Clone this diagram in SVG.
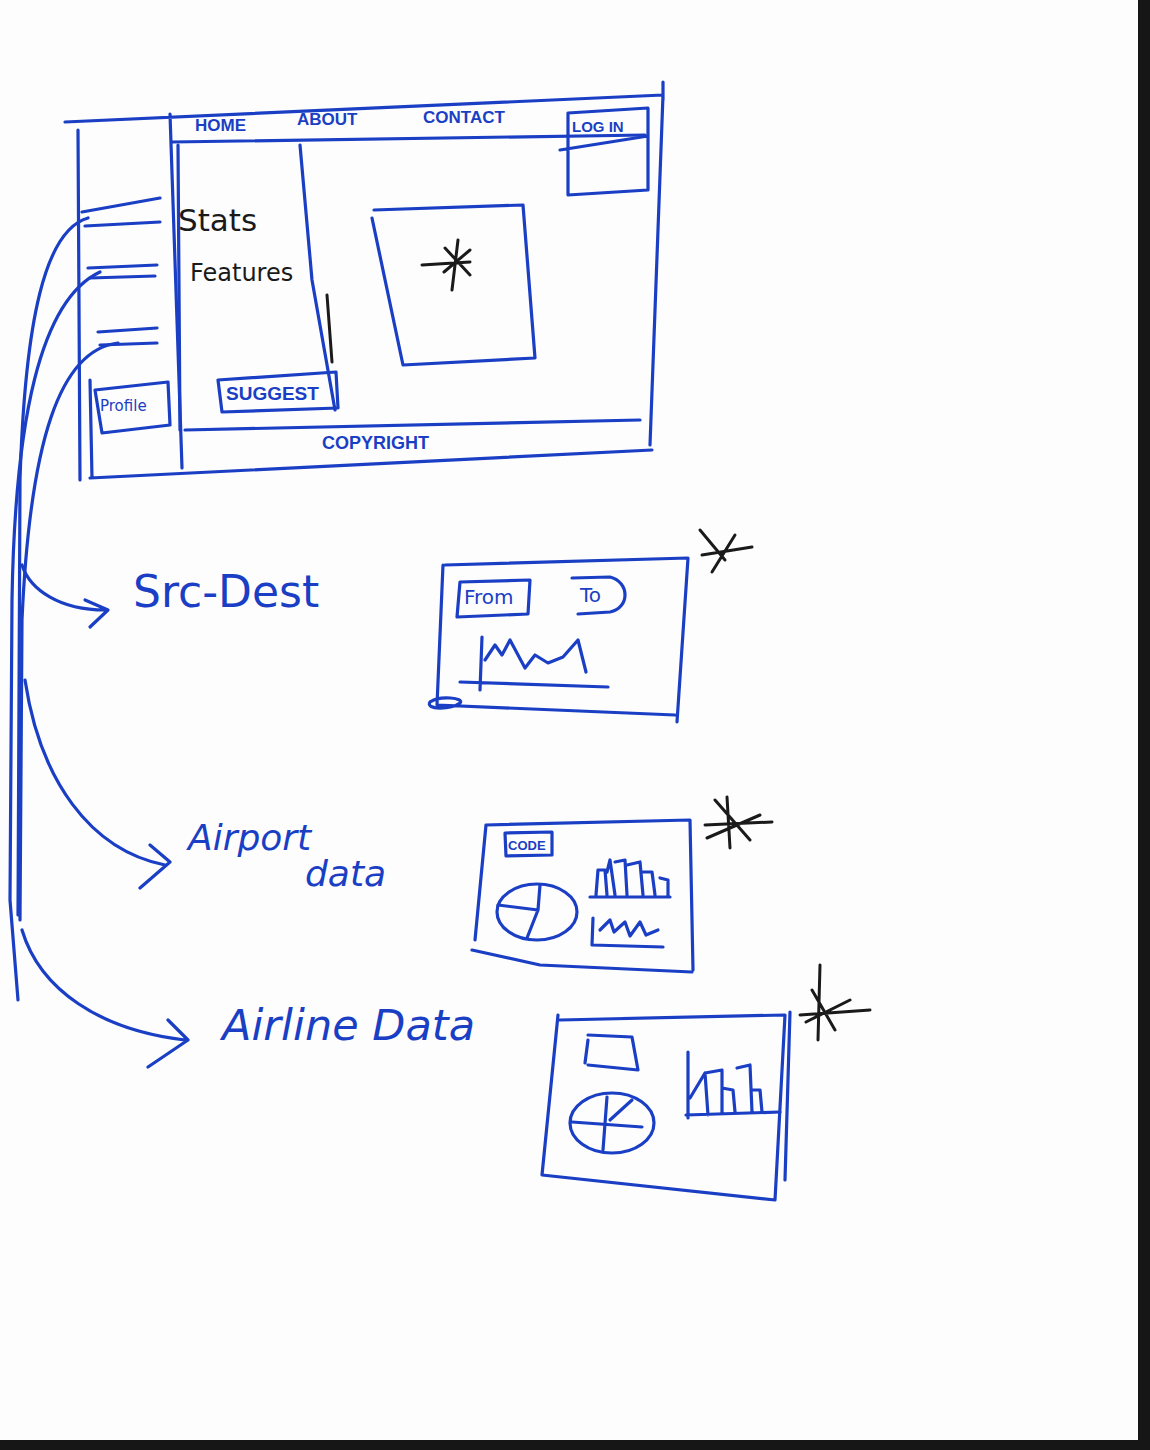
<svg xmlns="http://www.w3.org/2000/svg" width="1150" height="1450" viewBox="0 0 1150 1450">
<style>
.b{fill:none;stroke:#1a3fc4;stroke-width:3.2;stroke-linecap:round;stroke-linejoin:round}
.k{fill:none;stroke:#1a1a1a;stroke-width:3;stroke-linecap:round}
.t{font-family:"Liberation Sans",Arial,sans-serif;fill:#1a3fc4;font-weight:bold}
.h{font-family:"DejaVu Sans","Liberation Sans",sans-serif;fill:#1a3fc4}
.tk{font-family:"DejaVu Sans","Liberation Sans",sans-serif;fill:#1a1a1a}
</style>
<rect width="1150" height="1450" fill="#fdfdfd"/>
<rect x="1138" y="0" width="12" height="1450" fill="#161616"/>
<rect x="0" y="1440" width="1150" height="10" fill="#161616"/>

<g id="main-page">
<path class="b" d="M65,122 L663,95 M663,82 L663,100 M78,130 L80,480 M170,114 L182,468 M663,95 L650,445"/>
<path class="b" d="M172,142 L645,135"/>
<path class="b" d="M90,478 L652,450 M90,380 L92,478"/>
<text class="t" x="195" y="131" font-size="17">HOME</text>
<text class="t" x="297" y="125" font-size="17">ABOUT</text>
<text class="t" x="423" y="123" font-size="17">CONTACT</text>
</g>

<g id="login">
<path class="b" d="M568,113 L648,108 L648,190 L568,195 Z M560,150 L648,136"/>
<text class="t" x="572" y="132" font-size="15">LOG IN</text>
</g>

<g id="sidebar">
<path class="b" d="M82,212 L160,198 M85,226 L160,222 M88,268 L157,265 M90,278 L155,276 M98,332 L157,328 M100,345 L157,343"/>
</g>

<g id="profile">
<path class="b" d="M95,390 L168,382 L170,425 L102,433 Z"/>
<text class="h" x="100" y="411" font-size="15">Profile</text>
</g>

<g id="stats-panel">
<path class="b" d="M178,145 L180,430 M300,145 L312,280 L335,410"/>
<path class="k" d="M327,295 L332,362"/>
<text class="tk" x="178" y="231" font-size="31">Stats</text>
<text class="tk" x="190" y="281" font-size="24">Features</text>
</g>

<g id="suggest">
<path class="b" d="M218,380 L336,372 L338,408 L222,412 Z"/>
<text class="t" x="226" y="400" font-size="19">SUGGEST</text>
</g>

<g id="content">
<path class="b" d="M374,210 L523,205 L535,358 L403,365 L372,218"/>
<path class="k" d="M422,265 L470,262 M458,240 L452,290 M445,248 L470,275 M470,250 L444,272"/>
</g>

<g id="footer">
<path class="b" d="M185,430 L640,420"/>
<text class="t" x="322" y="449" font-size="18">COPYRIGHT</text>
</g>

<g id="connectors">
<path class="b" d="M88,218 C45,230 25,320 20,480 L18,915"/>
<path class="b" d="M100,272 C40,300 15,420 12,600 L10,900 L18,1000"/>
<path class="b" d="M118,343 C60,350 30,440 22,620 L20,920"/>
<path class="b" d="M22,565 C30,590 60,610 105,610 M85,600 L108,610 L90,627"/>
<path class="b" d="M25,680 C40,780 90,850 165,865 M150,845 L170,862 L140,888"/>
<path class="b" d="M22,930 C40,990 100,1030 185,1040 M168,1020 L188,1040 L148,1067"/>
</g>

<g id="labels">
<text class="h" x="133" y="607" font-size="44">Src-Dest</text>
<text class="h" x="188" y="850" font-size="36" font-style="italic">Airport</text>
<text class="h" x="305" y="886" font-size="36" font-style="italic">data</text>
<text class="h" x="222" y="1040" font-size="43" font-style="italic">Airline Data</text>
</g>

<g id="src-dest-panel">
<path class="b" d="M445,565 L688,558 L677,722 M443,565 L437,705 L675,715 M430,702 C440,695 465,698 460,703 C450,710 425,710 430,702"/>
<path class="b" d="M460,582 L530,580 L528,614 L457,617 Z M572,578 L610,577 C630,582 630,608 610,612 L578,614"/>
<text class="h" x="464" y="604" font-size="20">From</text>
<text class="h" x="580" y="602" font-size="20">To</text>
<path class="b" d="M482,637 L480,690 M460,682 L608,687 M485,660 L495,645 L502,655 L510,640 L525,668 L535,655 L548,663 L563,657 L578,640 L586,672"/>
<path class="k" d="M700,530 L725,560 M735,535 L712,572 M702,555 L752,547"/>
</g>

<g id="airport-panel">
<path class="b" d="M486,825 L690,820 L693,970 M486,825 L475,940 M472,950 L540,965 L692,972"/>
<path class="b" d="M505,833 L552,832 L552,855 L506,856 Z"/>
<text class="t" x="508" y="850" font-size="13">CODE</text>
<ellipse class="b" cx="537" cy="912" rx="40" ry="28"/>
<path class="b" d="M498,905 L538,910 L527,938 M538,910 L540,885"/>
<path class="b" d="M590,897 L670,897 M596,895 L598,870 L605,870 L607,895 M607,872 L610,860 L615,895 M615,862 L625,860 L627,895 M627,865 L640,862 L643,895 M643,872 L652,872 L655,895 M660,878 L668,880 L668,897"/>
<path class="b" d="M593,918 L592,945 L663,947 M600,930 L610,920 L614,932 L625,922 L630,936 L640,922 L646,935 L658,930"/>
<path class="k" d="M715,800 L750,840 M727,797 L730,848 M705,825 L772,822 M707,838 L760,815"/>
</g>

<g id="airline-panel">
<path class="b" d="M560,1020 L785,1015 L775,1200 M558,1015 L542,1175 L775,1200 M790,1012 L785,1180"/>
<path class="b" d="M588,1035 L632,1037 L638,1070 L588,1065 M588,1040 L585,1063"/>
<ellipse class="b" cx="612" cy="1123" rx="42" ry="30"/>
<path class="b" d="M572,1122 L642,1127 M607,1097 L603,1150 M610,1120 L632,1100"/>
<path class="b" d="M686,1115 L780,1112 M688,1052 L688,1118 M690,1098 L705,1073 L708,1115 M705,1073 L722,1070 L722,1112 M722,1088 L733,1090 L735,1112 M737,1068 L750,1065 L752,1112 M752,1090 L760,1090 L762,1112"/>
<path class="k" d="M820,965 L818,1040 M812,990 L835,1030 M800,1015 L870,1010 M806,1022 L850,1000"/>
</g>
</svg>
